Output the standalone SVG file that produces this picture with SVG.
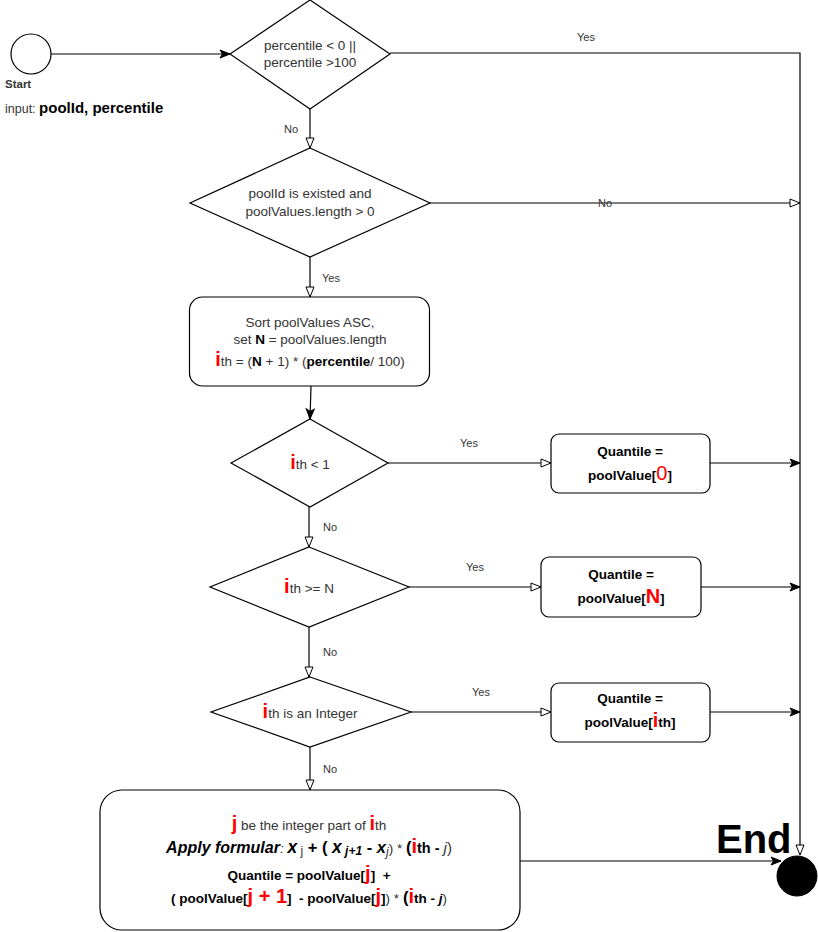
<svg xmlns="http://www.w3.org/2000/svg" width="818" height="932" viewBox="0 0 818 932">
<defs>
<marker id="open" markerUnits="userSpaceOnUse" markerWidth="12" markerHeight="10" viewBox="0 0 12 10" refX="11" refY="5" orient="auto">
<path d="M1,1 L11,5 L1,9 z" fill="#fff" stroke="#000" stroke-width="1"/>
</marker>
<marker id="classic" markerUnits="userSpaceOnUse" markerWidth="12" markerHeight="10" viewBox="0 0 12 10" refX="11" refY="5" orient="auto">
<path d="M1,1 L11,5 L1,9 L3.5,5 z" fill="#000" stroke="#000" stroke-width="1"/>
</marker>
<style>
.shape{fill:#fff;stroke:#000;stroke-width:1.2}
.conn{fill:none;stroke:#000;stroke-width:1.2}
.op{marker-end:url(#open)}
.cl{marker-end:url(#classic)}
text{font-family:"Liberation Sans",Arial,sans-serif;fill:#333}
.t{font-size:13.5px;text-anchor:middle}
.lbl{font-size:11px}
.b{font-weight:bold;fill:#000}
.r{font-weight:bold;fill:#ff0000;font-size:20px}
</style>
</defs>

<g id="connectors">
<path class="conn cl" d="M51,54 H230"/>
<path class="conn op" d="M390,53 H800 V855"/>
<path class="conn op" d="M310,109 V148"/>
<path class="conn op" d="M430,203 H800"/>
<path class="conn op" d="M310,257 V297"/>
<path class="conn cl" d="M311,386 L310,419"/>
<path class="conn op" d="M388,463 H551"/>
<path class="conn cl" d="M710,463 H800"/>
<path class="conn op" d="M309,507 V547"/>
<path class="conn op" d="M409,587 H541"/>
<path class="conn cl" d="M701,587 H800"/>
<path class="conn op" d="M309,627 V677"/>
<path class="conn op" d="M411,712 H551"/>
<path class="conn cl" d="M710,712 H800"/>
<path class="conn op" d="M310,747 V790"/>
<path class="conn cl" d="M520,861 H781"/>
<text class="lbl" x="577" y="41">Yes</text>
<text class="lbl" x="284" y="133">No</text>
<text class="lbl" x="598" y="207">No</text>
<text class="lbl" x="322" y="282">Yes</text>
<text class="lbl" x="460" y="447">Yes</text>
<text class="lbl" x="323" y="531">No</text>
<text class="lbl" x="466" y="571">Yes</text>
<text class="lbl" x="323" y="656">No</text>
<text class="lbl" x="472" y="696">Yes</text>
<text class="lbl" x="323" y="773">No</text>
</g>

<g id="start">
<circle class="shape" cx="31" cy="54" r="20"/>
<text x="5" y="88" style="font-size:11.5px;font-weight:bold;fill:#333">Start</text>
<text x="5" y="113" style="font-size:12.5px">input: <tspan class="b" style="font-size:15px">poolId, percentile</tspan></text>
</g>

<g id="decision-percentile">
<polygon class="shape" points="310,0 390,54 310,109 230,54"/>
<text class="t" x="310" y="50">percentile &lt; 0 ||</text>
<text class="t" x="310" y="67">percentile &gt;100</text>
</g>

<g id="decision-pool">
<polygon class="shape" points="310,148 430,203 310,257 190,203"/>
<text class="t" x="310" y="198">poolId is existed and</text>
<text class="t" x="310" y="216">poolValues.length &gt; 0</text>
</g>

<g id="sort-box">
<rect class="shape" x="189.5" y="297" width="240" height="89" rx="13"/>
<text class="t" x="310" y="327">Sort poolValues ASC,</text>
<text class="t" x="310" y="344">set <tspan class="b">N</tspan> = poolValues.length</text>
<text class="t" x="310" y="366"><tspan class="r">i</tspan>th = (<tspan class="b">N</tspan> + 1) * (<tspan class="b">percentile</tspan>/ 100)</text>
</g>

<g id="decision-lt1">
<polygon class="shape" points="310,419 388,463 310,507 231,463"/>
<text class="t" x="310" y="469"><tspan class="r">i</tspan>th &lt; 1</text>
</g>

<g id="box-q0">
<rect class="shape" x="551" y="434" width="159" height="59" rx="8"/>
<text class="t b" x="630" y="456">Quantile =</text>
<text class="t b" x="630" y="480">poolValue[<tspan class="r" style="font-weight:normal">0</tspan>]</text>
</g>

<g id="decision-geN">
<polygon class="shape" points="309,547 409,587 309,627 210,587"/>
<text class="t" x="309" y="593"><tspan class="r">i</tspan>th &gt;= N</text>
</g>

<g id="box-qN">
<rect class="shape" x="541" y="557" width="160" height="60" rx="8"/>
<text class="t b" x="621" y="579">Quantile =</text>
<text class="t b" x="621" y="603">poolValue[<tspan class="r">N</tspan>]</text>
</g>

<g id="decision-int">
<polygon class="shape" points="310,677 411,712 310,747 211,712"/>
<text class="t" x="310" y="718"><tspan class="r">i</tspan>th is an Integer</text>
</g>

<g id="box-qi">
<rect class="shape" x="551" y="683" width="159" height="59" rx="8"/>
<text class="t b" x="630" y="703">Quantile =</text>
<text class="t b" x="630" y="727">poolValue[<tspan class="r">i</tspan>th]</text>
</g>

<g id="box-interp">
<rect class="shape" x="100" y="790" width="420" height="140" rx="22"/>
<text class="t" x="309" y="830"><tspan class="r">j</tspan> be the integer part of <tspan class="r">i</tspan>th</text>
<text class="t" x="309" y="853"><tspan class="b" font-style="italic" font-size="16">Apply formular</tspan><tspan font-style="italic">: </tspan><tspan class="b" font-style="italic" font-size="17.5">x</tspan><tspan font-size="12" dy="2"> j</tspan><tspan class="b" font-size="16.5" dy="-2"> + ( </tspan><tspan class="b" font-style="italic" font-size="17.5">x</tspan><tspan class="b" font-style="italic" font-size="12" dy="2"> j+1</tspan><tspan class="b" font-size="16.5" dy="-2"> - </tspan><tspan class="b" font-style="italic" font-size="16.5">x</tspan><tspan font-style="italic" font-size="12" dy="3">j</tspan><tspan dy="-3">) * </tspan><tspan class="b" font-size="16.5">(</tspan><tspan class="r">i</tspan><tspan class="b" font-size="14.5">th - </tspan><tspan font-style="italic" font-size="15">j</tspan><tspan font-size="15">)</tspan></text>
<text class="t b" x="309" y="880">Quantile = poolValue[<tspan class="r">j</tspan>]&#160; +</text>
<text class="t" x="309" y="903"><tspan class="b">( poolValue[</tspan><tspan class="r">j + 1</tspan><tspan class="b">]&#160; - poolValue[</tspan><tspan class="r">j</tspan><tspan class="b">]</tspan>) * <tspan class="b" font-size="16.5">(</tspan><tspan class="r">i</tspan><tspan class="b">th - </tspan><tspan class="b" font-style="italic">j</tspan>)</text>
</g>

<g id="end">
<text x="716" y="853" style="font-size:40px" class="b">End</text>
<circle cx="797" cy="876" r="20" fill="#000" stroke="#000"/>
</g>
</svg>
